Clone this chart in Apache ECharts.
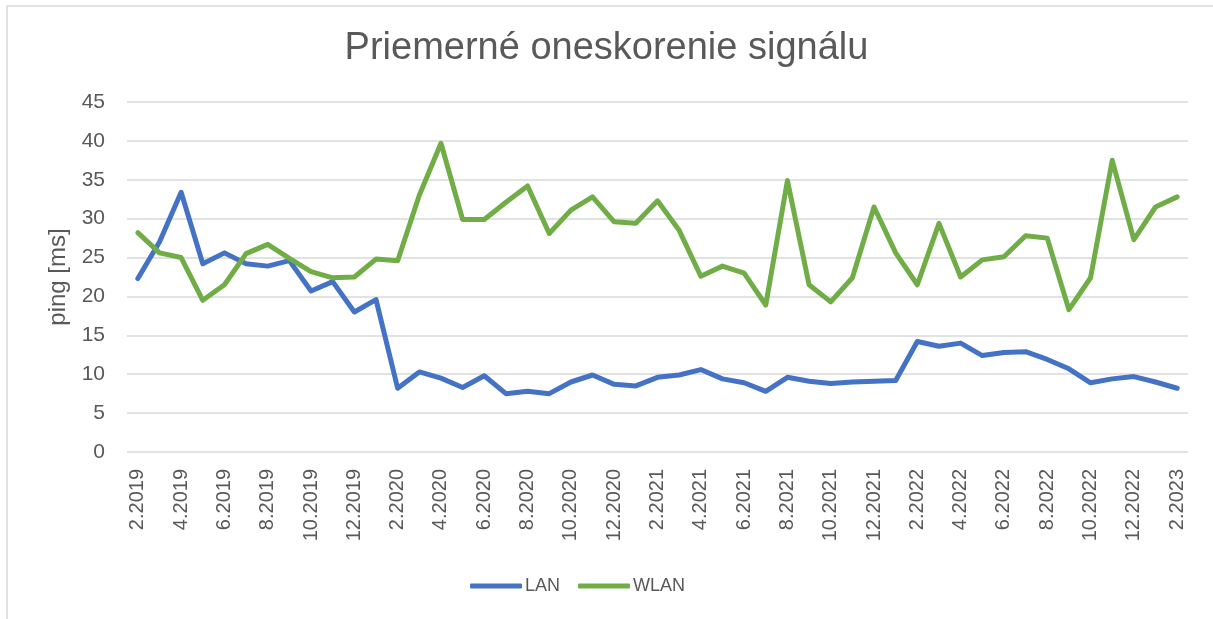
<!DOCTYPE html>
<html>
<head>
<meta charset="utf-8">
<script src="https://cdn.jsdelivr.net/npm/echarts@6/dist/echarts.min.js"></script>
<style>
  html, body { margin: 0; padding: 0; background: #fff; }
  #chart { width: 1213px; height: 619px; }
</style>
</head>
<body>
<div id="chart"></div>
<script>
// Chart data
var months = [
    '2.2019', '3.2019', '4.2019', '5.2019', '6.2019', '7.2019', '8.2019', '9.2019', '10.2019', '11.2019', '12.2019',
    '1.2020', '2.2020', '3.2020', '4.2020', '5.2020', '6.2020', '7.2020', '8.2020', '9.2020', '10.2020', '11.2020', '12.2020',
    '1.2021', '2.2021', '3.2021', '4.2021', '5.2021', '6.2021', '7.2021', '8.2021', '9.2021', '10.2021', '11.2021', '12.2021',
    '1.2022', '2.2022', '3.2022', '4.2022', '5.2022', '6.2022', '7.2022', '8.2022', '9.2022', '10.2022', '11.2022', '12.2022',
    '1.2023', '2.2023'
];
var lan = [
    22.3, 27.0, 33.4, 24.2, 25.6, 24.2, 23.9, 24.6, 20.7, 21.9, 18.0,
    19.6, 8.2, 10.3, 9.5, 8.3, 9.8, 7.5, 7.8, 7.5, 9.0, 9.9, 8.7,
    8.5, 9.6, 9.9, 10.6, 9.4, 8.9, 7.8, 9.6, 9.1, 8.8, 9.0, 9.1,
    9.2, 14.2, 13.6, 14.0, 12.4, 12.8, 12.9, 11.9, 10.7, 8.9, 9.4, 9.7,
    9.0, 8.2
];
var wlan = [
    28.2, 25.6, 25.0, 19.5, 21.5, 25.5, 26.7, 24.9, 23.2, 22.4, 22.5,
    24.8, 24.6, 33.0, 39.7, 29.9, 29.9, 32.1, 34.2, 28.1, 31.1, 32.8, 29.6,
    29.4, 32.3, 28.5, 22.6, 23.9, 23.0, 18.9, 34.9, 21.5, 19.3, 22.4, 31.5,
    25.6, 21.5, 29.4, 22.5, 24.7, 25.1, 27.8, 27.5, 18.3, 22.4, 37.5, 27.3,
    31.5, 32.8
];

var textColor = '#595959';
var chart = echarts.init(document.getElementById('chart'));

chart.setOption({
    animation: false,
    backgroundColor: '#fff',
    title: {
        text: 'Priemerné oneskorenie signálu',
        left: 'center',
        top: 25,
        textStyle: {
            fontFamily: 'Liberation Sans',
            fontSize: 38,
            fontWeight: 'normal',
            color: textColor
        }
    },
    graphic: [{
        type: 'rect',
        shape: { x: 7, y: 6, width: 1260, height: 700 },
        style: { fill: 'none', stroke: '#d9d9d9', lineWidth: 1.5 },
        silent: true
    }],
    legend: {
        top: 572,
        left: 465,
        icon: 'roundRect',
        itemWidth: 52,
        itemHeight: 5,
        itemGap: 18,
        textStyle: {
            fontFamily: 'Liberation Sans',
            fontSize: 18,
            color: textColor,
            padding: [0, 0, 0, -2]
        },
        data: ['LAN', 'WLAN']
    },
    grid: {
        left: 127,
        right: 25,
        top: 102,
        bottom: 167
    },
    xAxis: {
        type: 'category',
        data: months,
        boundaryGap: true,
        axisLine: { show: false },
        axisTick: { show: false },
        axisLabel: {
            interval: 1,
            rotate: 90,
            margin: 17,
            fontFamily: 'Liberation Sans',
            fontSize: 20,
            color: textColor
        }
    },
    yAxis: {
        type: 'value',
        min: 0,
        max: 45,
        interval: 5,
        name: 'ping [ms]',
        nameLocation: 'middle',
        nameGap: 50,
        nameTextStyle: {
            fontFamily: 'Liberation Sans',
            fontSize: 24,
            color: textColor
        },
        axisLine: { show: false },
        axisTick: { show: false },
        axisLabel: {
            margin: 22,
            fontFamily: 'Liberation Sans',
            fontSize: 21,
            color: textColor
        },
        splitLine: {
            lineStyle: { color: '#d9d9d9', width: 1.5 }
        }
    },
    series: [{
        name: 'LAN',
        type: 'line',
        data: lan,
        symbol: 'none',
        color: '#4472C4',
        lineStyle: { width: 5, color: '#4472C4', cap: 'round', join: 'round' }
    }, {
        name: 'WLAN',
        type: 'line',
        data: wlan,
        symbol: 'none',
        color: '#70AD47',
        lineStyle: { width: 5, color: '#70AD47', cap: 'round', join: 'round' }
    }]
});
</script>
</body>
</html>
